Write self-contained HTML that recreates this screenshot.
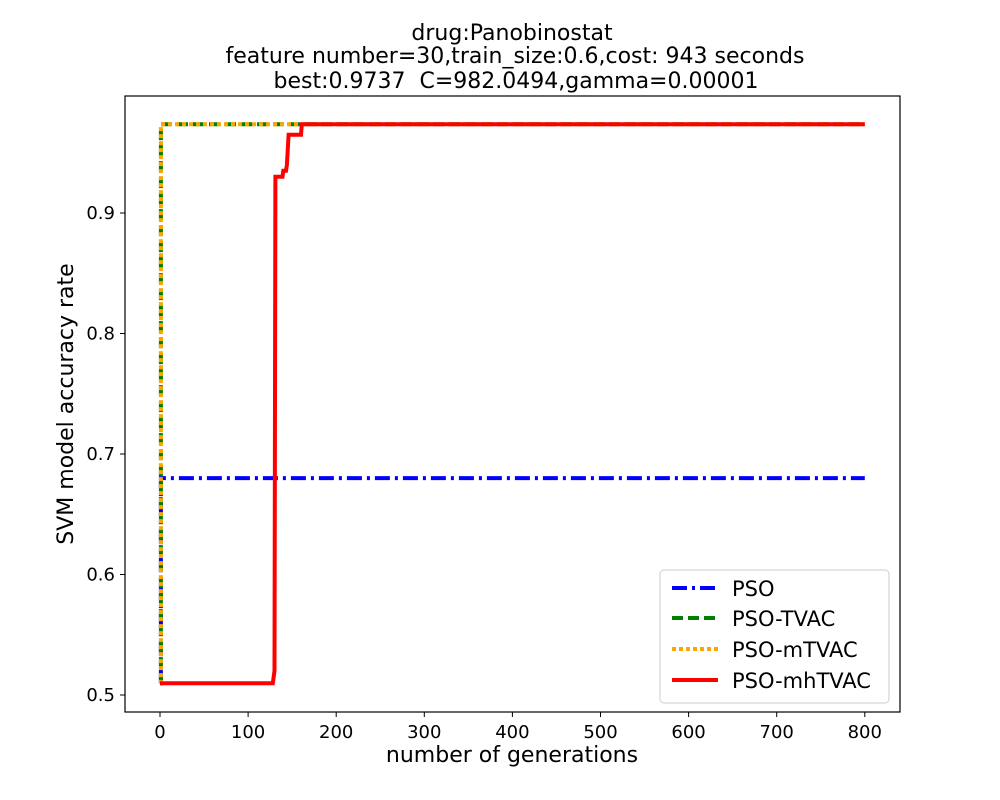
<!DOCTYPE html>
<html><head><meta charset="utf-8"><style>body{margin:0;background:#fff}svg{display:block}text{font-family:"DejaVu Sans","Liberation Sans",sans-serif;fill:#000}</style></head>
<body>
<svg id="chart" width="1000" height="800">
<text x="512" y="40" font-size="22" text-anchor="middle">drug:Panobinostat</text>
<text x="515" y="63" font-size="22" text-anchor="middle">feature number=30,train_size:0.6,cost: 943 seconds</text>
<text x="516" y="88" font-size="22" text-anchor="middle" xml:space="preserve">best:0.9737  C=982.0494,gamma=0.00001</text>
<rect x="125" y="96" width="775" height="616" fill="none" stroke="#000" stroke-width="1.2"/>
<g id="ticks"></g>
<g id="series"></g>
<text x="512" y="762" font-size="22" text-anchor="middle">number of generations</text>
<text transform="translate(73,404) rotate(-90)" font-size="22" text-anchor="middle">SVM model accuracy rate</text>
<g>
<rect x="660" y="570" width="229" height="133" rx="4" fill="#fff" stroke="#ccc"/>
<g><line x1="672" y1="588" x2="718" y2="588" stroke="blue" stroke-width="4" stroke-dasharray="15,5,3,5"/><text x="732" y="596" font-size="21">PSO</text></g>
<g><line x1="672" y1="618" x2="718" y2="618" stroke="green" stroke-width="4" stroke-dasharray="11,5"/><text x="732" y="626" font-size="21">PSO-TVAC</text></g>
<g><line x1="672" y1="649" x2="718" y2="649" stroke="orange" stroke-width="4" stroke-dasharray="4,3"/><text x="732" y="657" font-size="21">PSO-mTVAC</text></g>
<g><line x1="672" y1="680" x2="718" y2="680" stroke="red" stroke-width="4"/><text x="732" y="688" font-size="21">PSO-mhTVAC</text></g>
</g>
</svg>
<script>
const xTicks=[0,100,200,300,400,500,600,700,800];
const yTicks=[0.5,0.6,0.7,0.8,0.9];
const psoGen=[0,1,1,800];
const psoVal=[0.5098,0.5098,0.68,0.68];
const tvacGen=[0,1,1,800];
const tvacVal=[0.5098,0.5098,0.9737,0.9737];
const mtvacGen=[0,1,1,800];
const mtvacVal=[0.5098,0.5098,0.9737,0.9737];
const mhGen=[0,128,130,131,139,140,143,144,146,147,160,161,800];
const mhVal=[0.5098,0.5098,0.52,0.93,0.93,0.935,0.935,0.94,0.965,0.965,0.965,0.9737,0.9737];
const X=v=>160+v*0.881, Y=v=>695-(v-0.5)*1205;
const NS="http://www.w3.org/2000/svg";
const tg=document.getElementById('ticks'), sg=document.getElementById('series');
function mk(tag,at,p){const e=document.createElementNS(NS,tag);for(const k in at)e.setAttribute(k,at[k]);p.appendChild(e);return e;}
xTicks.forEach(t=>{
 const l=mk('line',{x1:X(t),x2:X(t),y1:712,y2:717,stroke:'#000'},tg);
 
 
 const tx=mk('text',{x:X(t),y:738,'font-size':18,'text-anchor':'middle'},tg);tx.textContent=t;
 
 
});
yTicks.forEach(t=>{
 const l=mk('line',{x1:120,x2:125,y1:Y(t),y2:Y(t),stroke:'#000'},tg);
 
 
 const tx=mk('text',{x:115,y:Y(t)+6,'font-size':18,'text-anchor':'end'},tg);tx.textContent=t.toFixed(1);
 
 
});
function path(g,v){return g.map((x,i)=>(i?'L':'M')+X(x).toFixed(1)+','+Y(v[i]).toFixed(1)).join('');}
const series=[[psoGen,psoVal,'blue','15,5,3,5','series-pso'],[tvacGen,tvacVal,'green','11,5','series-pso-tvac'],[mtvacGen,mtvacVal,'orange','4,3','series-pso-mtvac'],[mhGen,mhVal,'red','none','series-pso-mhtvac']];
series.forEach(s=>{
 const p=mk('path',{d:path(s[0],s[1]),fill:'none',stroke:s[2],'stroke-width':4,'stroke-dasharray':s[3]},sg);
 
 
});
</script>
</body></html>
